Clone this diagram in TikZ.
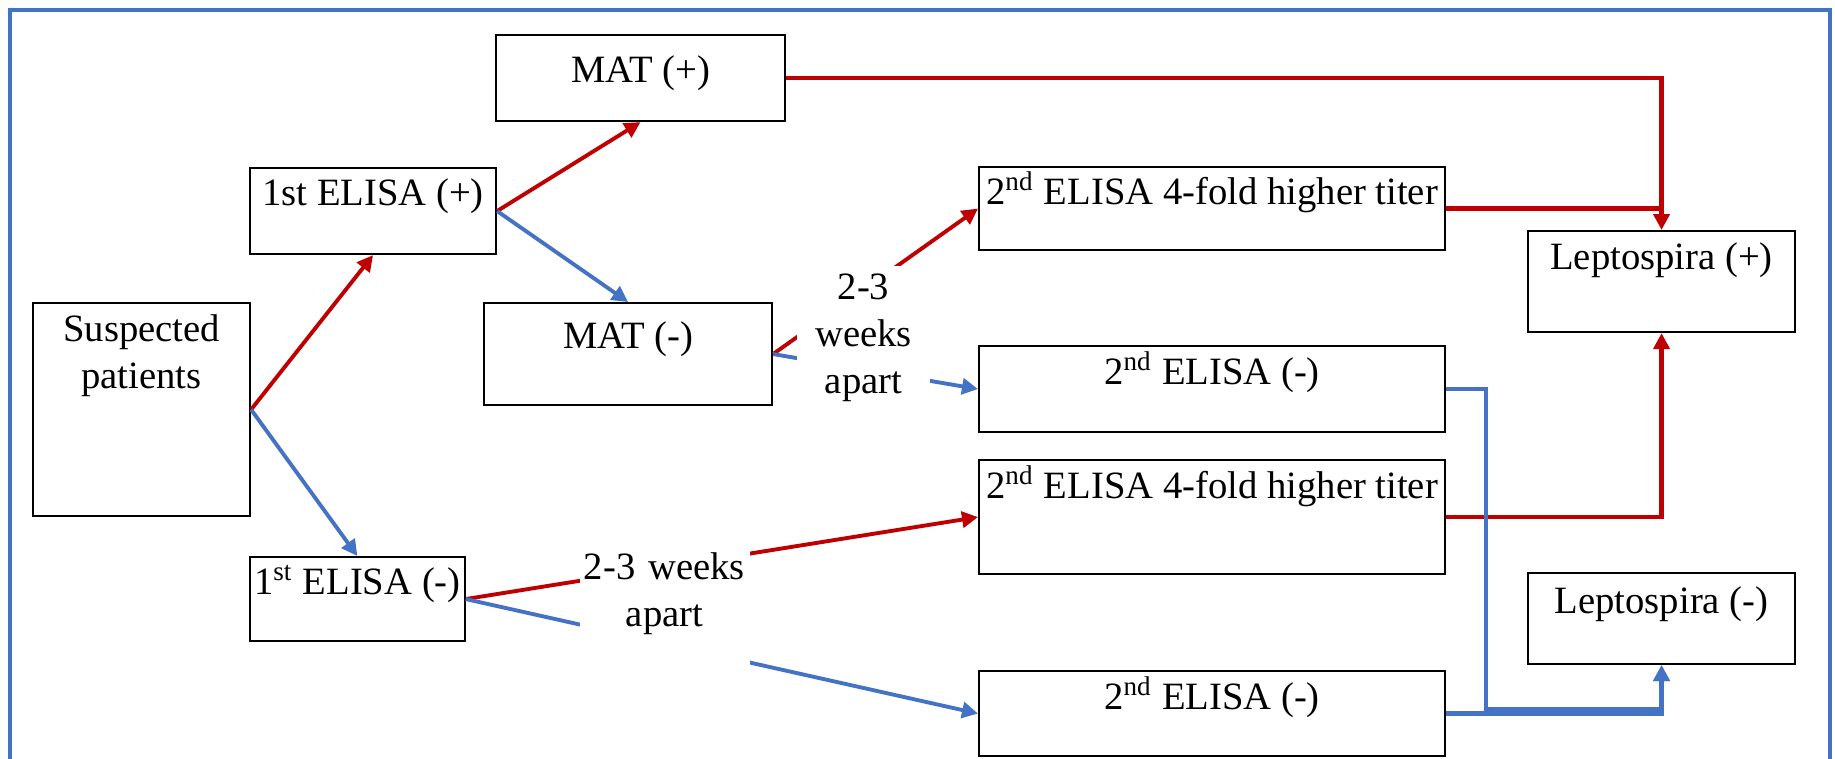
\documentclass[tikz,border=0pt]{standalone}
\usepackage{fontspec}
\setmainfont{Liberation Serif}
\usetikzlibrary{arrows.meta,calc}
\definecolor{posred}{RGB}{192,0,0}
\definecolor{negblue}{RGB}{68,114,196}

\begin{document}
\begin{tikzpicture}[
        box/.style={draw, line width=0.6pt, anchor=north west, inner xsep=0.04cm, inner ysep=0pt, align=center},
        posline/.style={posred, line width=1.1pt, -{Triangle[length=0.16cm,width=0.16cm]}},
        negline/.style={negblue, line width=1.1pt, -{Triangle[length=0.16cm,width=0.16cm]}},
        gapbox/.style={fill=white, inner sep=0pt, anchor=north, align=center},
        font=\fontsize{11}{13.4}\selectfont]
                \useasboundingbox (0,0) rectangle (18.35,7.58);
                \draw[negblue, line width=1.3pt] (0.10,-0.2) |- (18.30,7.48) -- (18.30,-0.2);
                \node[box, text width=2.09cm, text height=0.38cm, text depth=1.75cm] (susp) at (0.32,4.56) {Suspected\\patients};
                \node[box, minimum width=2.46cm, text height=0.37cm, text depth=0.49cm] (e1p) at (2.49,5.91) {1st ELISA (+)};
                \node[box, minimum width=2.12cm, text height=0.37cm, text depth=0.47cm] (e1n) at (2.49,2.02) {1\textsuperscript{st} ELISA (-)};
                \node[box, minimum width=2.89cm, text height=0.47cm, text depth=0.39cm] (matp) at (4.95,7.24) {MAT (+)};
                \node[box, minimum width=2.88cm, text height=0.45cm, text depth=0.57cm] (matn) at (4.83,4.56) {MAT (-)};
                \node[box, minimum width=4.66cm, text height=0.37cm, text depth=0.46cm] (e2ht) at (9.78,5.92) {2\textsuperscript{nd} ELISA 4-fold higher titer};
                \node[box, minimum width=4.66cm, text height=0.38cm, text depth=0.48cm] (e2nt) at (9.78,4.13) {2\textsuperscript{nd} ELISA (-)};
                \node[box, minimum width=4.66cm, text height=0.38cm, text depth=0.76cm] (e2hb) at (9.78,2.99) {2\textsuperscript{nd} ELISA 4-fold higher titer};
                \node[box, minimum width=4.66cm, text height=0.38cm, text depth=0.47cm] (e2nb) at (9.78,0.88) {2\textsuperscript{nd} ELISA (-)};
                \node[box, minimum width=2.67cm, text height=0.38cm, text depth=0.63cm] (leptp) at (15.27,5.28) {Leptospira (+)};
                \node[box, minimum width=2.67cm, text height=0.40cm, text depth=0.51cm] (leptn) at (15.27,1.86) {Leptospira (-)};
                \draw[posline] (susp.east) -- (e1p.south);
                \draw[negline] (susp.east) -- (e1n.north);
                \draw[posline] (e1p.east) -- (matp.south);
                \draw[negline] (e1p.east) -- (matn.north);
                \draw[posline] (matn.east) -- (e2ht.west);
                \draw[negline] (matn.east) -- (e2nt.west);
                \draw[posline] (e1n.east) -- (e2hb.west);
                \draw[negline] (e1n.east) -- (e2nb.west);
                \draw[posline, line width=1.25pt] (matp.east) -| (leptp.north);
                \draw[posred, line width=1.25pt] (e2ht.east) -- (e2ht.east -| leptp.north);
                \draw[posline, line width=1.25pt] (e2hb.east) -| (leptp.south);
                \draw[negline, line width=1.25pt] (e2nt.east) -- ++(0.40,0) |- ($(e2nb.east -| leptn.south)+(0,0.04)$) -- (leptn.south);
                \draw[negline, line width=1.25pt] (e2nb.east) -| (leptn.south);
                \node[gapbox, text width=1.33cm, text height=0.34cm, text depth=1.09cm] (lab1) at (8.635,4.93) {2-3\\weeks\\apart};
                \node[gapbox, text width=1.7cm, text height=0.31cm, text depth=0.86cm] (lab2) at (6.645,2.10) {2-3 weeks\\apart};
            \end{tikzpicture}
\end{document}
